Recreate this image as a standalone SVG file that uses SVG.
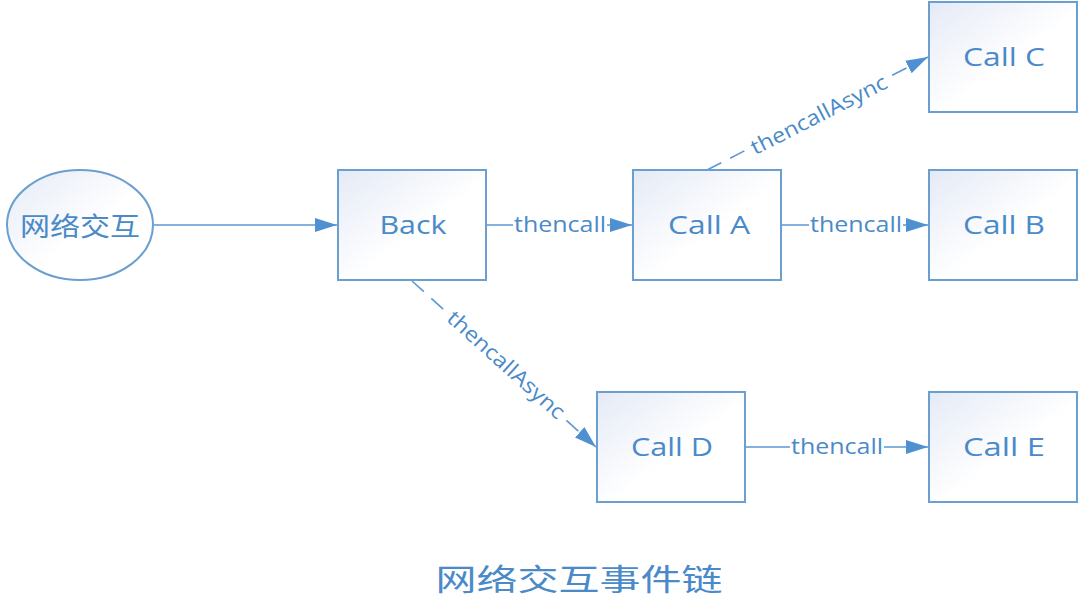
<svg xmlns="http://www.w3.org/2000/svg" width="1080" height="610" viewBox="0 0 1080 610">
<defs>
<linearGradient id="g" x1="0" y1="0" x2="1" y2="1">
<stop offset="0" stop-color="#e4eaf6"/>
<stop offset="0.55" stop-color="#ffffff"/>
<stop offset="1" stop-color="#ffffff"/>
</linearGradient>
<marker id="arr" markerUnits="userSpaceOnUse" markerWidth="24" markerHeight="16" refX="22" refY="7" orient="auto" viewBox="0 0 24 14">
<path d="M0,0 L22,7 L0,14 Z" fill="#4f90d2"/>
</marker>
</defs>
<style>
.box{fill:url(#g);stroke:#6a9fd0;stroke-width:2}
.lbl{font-family:"Open Sans","Noto Sans","Liberation Sans",sans-serif;font-size:26px;fill:#4a8ac8;text-anchor:middle;dominant-baseline:central}
.cjk{font-family:"Noto Sans CJK SC","Noto Sans",sans-serif;fill:#4a8ac8;text-anchor:middle;dominant-baseline:central}
.edge{stroke:#5b98d4;stroke-width:1.6;fill:none;marker-end:url(#arr)}
.dash{stroke-dasharray:16 10}
.el{font-family:"Open Sans","Noto Sans","Liberation Sans",sans-serif;font-size:21px;fill:#4a8ac8;text-anchor:middle;dominant-baseline:central}
.bg{fill:#ffffff}
</style>
<rect width="1080" height="610" fill="#ffffff"/>
<g id="connectors">
<line class="edge" x1="154" y1="225" x2="337" y2="225"/>
<line class="edge" x1="487" y1="225" x2="632" y2="225"/>
<line class="edge" x1="782" y1="225" x2="928" y2="225"/>
<line class="edge" x1="746" y1="447" x2="928" y2="447"/>
<line class="edge dash" x1="707" y1="170" x2="928" y2="57"/>
<line class="edge dash" x1="412" y1="281" x2="596" y2="447"/>
<rect class="bg" x="513" y="213" width="94" height="24"/>
<text class="el" x="560" y="224" textLength="92" lengthAdjust="spacingAndGlyphs">thencall</text>
<rect class="bg" x="809" y="213" width="94" height="24"/>
<text class="el" x="856" y="224" textLength="92" lengthAdjust="spacingAndGlyphs">thencall</text>
<rect class="bg" x="790" y="435" width="94" height="24"/>
<text class="el" x="837" y="446" textLength="92" lengthAdjust="spacingAndGlyphs">thencall</text>
<g transform="translate(819,115) rotate(-27)">
<rect class="bg" x="-76" y="-12" width="152" height="24"/>
<text class="el" x="0" y="-1" textLength="150" lengthAdjust="spacingAndGlyphs">thencallAsync</text>
</g>
<g transform="translate(506,365) rotate(42)">
<rect class="bg" x="-76" y="-12" width="152" height="24"/>
<text class="el" x="0" y="-1" textLength="150" lengthAdjust="spacingAndGlyphs">thencallAsync</text>
</g>
</g>
<g id="node-start">
<ellipse class="box" cx="80" cy="225" rx="73" ry="55"/>
<text class="cjk" x="80" y="224" font-size="26" textLength="120" lengthAdjust="spacingAndGlyphs">网络交互</text>
</g>
<g id="node-back">
<rect class="box" x="338" y="170" width="148" height="110"/>
<text class="lbl" x="413" y="224" textLength="67" lengthAdjust="spacingAndGlyphs">Back</text>
</g>
<g id="node-a">
<rect class="box" x="633" y="170" width="148" height="110"/>
<text class="lbl" x="709" y="224" textLength="82" lengthAdjust="spacingAndGlyphs">Call A</text>
</g>
<g id="node-b">
<rect class="box" x="929" y="170" width="148" height="110"/>
<text class="lbl" x="1004" y="224" textLength="82" lengthAdjust="spacingAndGlyphs">Call B</text>
</g>
<g id="node-c">
<rect class="box" x="929" y="2" width="148" height="110"/>
<text class="lbl" x="1004" y="56" textLength="82" lengthAdjust="spacingAndGlyphs">Call C</text>
</g>
<g id="node-d">
<rect class="box" x="597" y="392" width="148" height="110"/>
<text class="lbl" x="672" y="446" textLength="82" lengthAdjust="spacingAndGlyphs">Call D</text>
</g>
<g id="node-e">
<rect class="box" x="929" y="392" width="148" height="110"/>
<text class="lbl" x="1004" y="446" textLength="82" lengthAdjust="spacingAndGlyphs">Call E</text>
</g>
<text class="cjk" x="579" y="577" font-size="30" textLength="287" lengthAdjust="spacingAndGlyphs">网络交互事件链</text>
</svg>
